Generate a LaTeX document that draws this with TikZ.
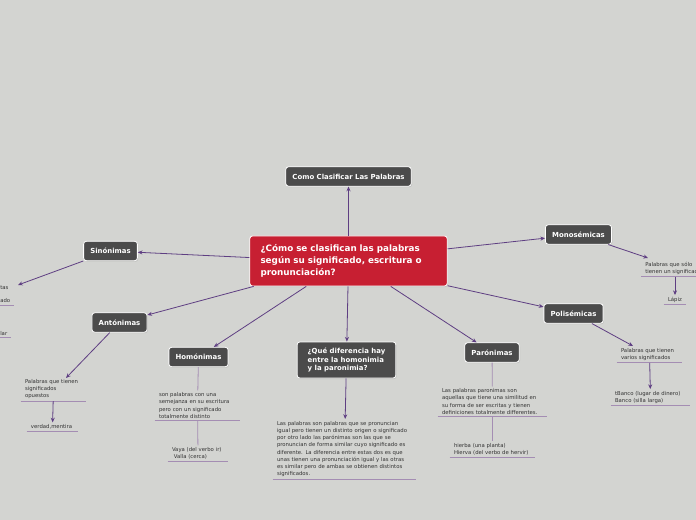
\documentclass[tikz,border=0pt]{standalone}
\usepackage{fontspec}
\setmainfont{DejaVu Sans}
\usetikzlibrary{arrows.meta,shadows}
\definecolor{bgrey}{HTML}{D3D4D1}
\definecolor{boxgrey}{HTML}{4B4B4B}
\definecolor{crimson}{HTML}{C71F32}
\definecolor{plum}{HTML}{5E3E82}
\definecolor{lilac}{HTML}{A48DB3}
\definecolor{inkgrey}{HTML}{333333}

\begin{document}
\begin{tikzpicture}[x=0.75pt,y=-0.75pt,
  topic/.style={draw=white, line width=0.6pt, fill=boxgrey, rounded corners=2pt, text=white, font=\fontsize{5.2}{6.5}\selectfont\bfseries, minimum height=14.5pt, inner xsep=5pt, drop shadow={opacity=0.25, shadow xshift=0.6pt, shadow yshift=-0.8pt}},
  root/.style={draw=white, line width=0.6pt, fill=crimson, rounded corners=2pt, text=white, font=\fontsize{6.6}{8.8}\selectfont\bfseries, minimum width=148pt, minimum height=37.5pt, align=left, text width=132pt, drop shadow={opacity=0.25, shadow xshift=0.6pt, shadow yshift=-0.8pt}},
  leaf/.style={text=inkgrey, font=\fontsize{4}{5.4}\selectfont, align=left, inner xsep=3pt, inner ysep=1.5pt},
  arr/.style={-{Stealth[length=3.5pt,width=3pt]}, plum, line width=0.6pt},
  link/.style={lilac, line width=0.6pt},
  uline/.style={lilac, line width=0.7pt}
]
\useasboundingbox[fill=bgrey] (0,0) rectangle (696,520);

% main topics
\node[root] (main) at (348.5,261) {¿Cómo se clasifican las palabras\\según su significado, escritura o\\pronunciación?};
\node[topic] (title) at (348.5,176.5) {Como Clasificar Las Palabras};
\node[topic] (sino) at (110.5,251) {Sinónimas};
\node[topic] (anto) at (119.5,322.5) {Antónimas};
\node[topic] (homo) at (198.5,357) {Homónimas};
\node[topic, align=left, minimum width=74pt, minimum height=27pt] (dif) at (346.5,360) {¿Qué diferencia hay\\entre la homonimia\\y la paronimia?};
\node[topic] (paro) at (492,352.5) {Parónimas};
\node[topic] (mono) at (578.5,234.5) {Monosémicas};
\node[topic] (poli) at (573.5,313.5) {Polisémicas};

% leaves
\node[leaf, anchor=west] (sinoA) at (-4,288) {tas};
\node[leaf, anchor=west] (sinoB) at (-4,301) {ado};
\node[leaf, anchor=west] (sinoC) at (-4,333.5) {lar};
\node[leaf, text width=42.75pt] (antoA) at (53.5,389) {Palabras que tienen\\significados\\opuestos};
\node[leaf, text width=32.25pt] (antoB) at (52.5,427) {verdad,mentira};
\node[leaf, text width=57.75pt] (homoA) at (197.5,405.5) {son palabras con una\\semejanza en su escritura\\pero con un significado\\totalmente distinto};
\node[leaf, text width=39pt] (homoB) at (198,453.5) {Vaya (del verbo ir)\\\ Valla (cerca)};
\node[leaf, text width=101.25pt] (difA) at (344.5,449) {Las palabras son palabras que se pronuncian\\igual pero tienen un distinto origen o significado\\por otro lado las parónimas son las que se\\pronuncian de forma similar cuyo significado es\\diferente. La diferencia entre estas dos es que\\unas tienen una pronunciación igual y las otras\\es similar pero de ambas se obtienen distintos\\significados.};
\node[leaf, text width=75.75pt] (paroA) at (492.5,401.5) {Las palabras paronimas son\\aquellas que tiene una similitud en\\su forma de ser escritas y tienen\\definiciones totalmente differentes.};
\node[leaf, text width=57.75pt] (paroB) at (492.5,449) {hierba (una planta)\\Hierva (del verbo de hervir)};
\node[leaf, anchor=north west, text width=54pt] (monoA) at (641,259.5) {Palabras que sólo\\tienen un significado};
\node[leaf, text width=10.5pt] (monoB) at (675,300) {Lápiz};
\node[leaf, text width=42.75pt] (poliA) at (649.5,354.5) {Palabras que tienen\\varios significados};
\node[leaf, text width=53.25pt] (poliB) at (650.5,397.5) {tBanco (lugar de dinero)\\Banco (silla larga)};

% arrow ends on the leaves
\coordinate (sinoIn) at (18,285);
\coordinate (antoIn) at (66,378);
\coordinate (monoIn) at (648,258);
\coordinate (poliIn) at (633,346);

% underlines
\foreach \n in {sinoB,sinoC,antoA,antoB,homoA,homoB,difA,paroA,paroB,monoA,monoB,poliA,poliB}
  \draw[uline] (\n.south west) -- (\n.south east);

% connectors
\draw[arr] (main) -- (title);
\draw[arr] (main.178) -- (sino);
\draw[arr] (main.195) -- (anto);
\draw[arr] (main.211) -- (homo);
\draw[arr] (main) -- (dif);
\draw[arr] (main.329) -- (paro);
\draw[arr] (main.7) -- (mono);
\draw[arr] (main.-14) -- (poli);

\draw[arr] (sino) -- (sinoIn);
\draw[arr] (anto) -- (antoIn);
\draw[arr] (antoA) -- (antoB);
\draw[link] (homo) -- (homoA);
\draw[link] (homoA) -- (homoB);
\draw[arr] (dif) -- (difA);
\draw[link] (paro) -- (paroA);
\draw[link] (paroA) -- (paroB);
\draw[arr] (mono) -- (monoIn);
\draw[arr] (monoA.south -| monoB) -- (monoB);
\draw[arr] (poli) -- (poliIn);
\draw[arr] (poliA) -- (poliB);
\end{tikzpicture}
\end{document}
